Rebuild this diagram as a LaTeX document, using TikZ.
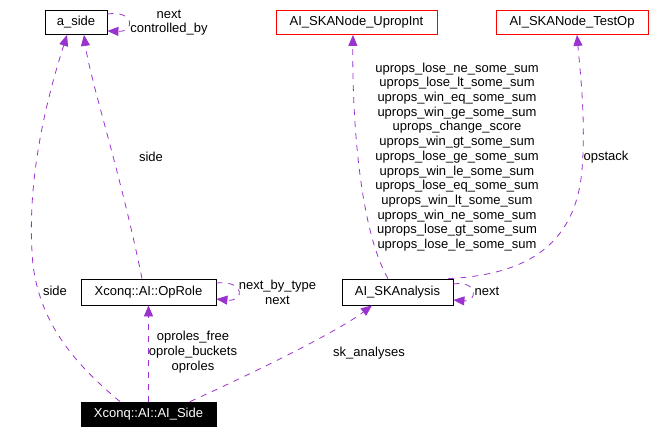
\documentclass[tikz,border=0pt]{standalone}
\usepackage{fontspec}
\setmainfont{Liberation Sans}
\usetikzlibrary{arrows.meta}
\definecolor{relcol}{HTML}{9A32CD}
\definecolor{boxred}{HTML}{FF0000}
\begin{document}
\begin{tikzpicture}[x=1pt,y=-1pt,
  font=\fontsize{13}{14.7}\selectfont,
  cls/.style={draw=black,line width=0.8pt,inner sep=0pt,minimum height=24pt},
  extcls/.style={cls,draw=boxred},
  curcls/.style={cls,fill=black,text=white},
  rel/.style={draw=relcol,line width=0.8pt,dash pattern=on 6pt off 6pt,
    -{Triangle[length=11pt,width=9pt]}},
  lbl/.style={align=center,inner sep=0pt}]
\useasboundingbox (0,0) rectangle (655,433);

\node[cls,minimum width=62pt] (aside) at (76,22.5) {a\_side};
\node[extcls,minimum width=161pt] (uprop) at (356.5,22.5) {AI\_SKANode\_UpropInt};
\node[extcls,minimum width=152pt] (testop) at (572,22.5) {AI\_SKANode\_TestOp};
\node[cls,minimum width=135pt,minimum height=26pt] (oprole) at (148.5,292) {Xconq::AI::OpRole};
\node[cls,minimum width=111pt,minimum height=26pt] (skan) at (397.5,292) {AI\_SKAnalysis};
\node[curcls,minimum width=135pt] (aiside) at (148.5,414) {Xconq::AI::AI\_Side};

\draw[rel] ([xshift=-28.5pt]aiside.north) .. controls (70,360) and (40,320) .. (33,265)
  .. controls (25,180) and (48,95) .. ([xshift=-9pt]aside.south);
\draw[rel] ([xshift=-6.5pt]oprole.north) .. controls (120,170) and (90,80) .. ([xshift=8pt]aside.south);
\draw[rel] ([yshift=8.5pt]aside.east) .. controls (135,10) and (135,32) .. ([yshift=-8.5pt]aside.east);
\draw[rel] ([yshift=9pt]oprole.east) .. controls (245,280) and (245,302) .. ([yshift=-7pt]oprole.east);
\draw[rel] ([yshift=8pt]skan.east) .. controls (478,280) and (478,302) .. ([yshift=-8pt]skan.east);
\draw[rel] ([xshift=-9.5pt]skan.north) .. controls (360,230) and (352,120) .. ([xshift=-3.5pt]uprop.south);
\draw[rel] ([xshift=-5pt]skan.north east) .. controls (520,275) and (575,250) .. (582,170)
  .. controls (586,120) and (580,70) .. ([xshift=5pt]testop.south);
\draw[rel] (aiside.north) -- (oprole.south);
\draw[rel] ([xshift=41.5pt]aiside.north) .. controls (260,370) and (340,330) .. ([xshift=-25.5pt]skan.south);

\node[lbl] (lnext) at (169,22.5) {next\\controlled\_by};
\node[lbl] (lside) at (151,157) {side};
\node[lbl] (lsidetwo) at (55,291) {side};
\node[lbl] (lnexttype) at (277.5,292) {next\_by\_type\\next};
\node[lbl] (lnextsk) at (487,291) {next};
\node[lbl] (luprops) at (457,157) {uprops\_lose\_ne\_some\_sum\\uprops\_lose\_lt\_some\_sum\\
  uprops\_win\_eq\_some\_sum\\uprops\_win\_ge\_some\_sum\\uprops\_change\_score\\
  uprops\_win\_gt\_some\_sum\\uprops\_lose\_ge\_some\_sum\\uprops\_win\_le\_some\_sum\\
  uprops\_lose\_eq\_some\_sum\\uprops\_win\_lt\_some\_sum\\uprops\_win\_ne\_some\_sum\\
  uprops\_lose\_gt\_some\_sum\\uprops\_lose\_le\_some\_sum};
\node[lbl] (lopstack) at (606,157) {opstack};
\node[lbl] (loproles) at (193,352) {oproles\_free\\oprole\_buckets\\oproles};
\node[lbl] (lskan) at (369,353) {sk\_analyses};
\end{tikzpicture}
\end{document}
